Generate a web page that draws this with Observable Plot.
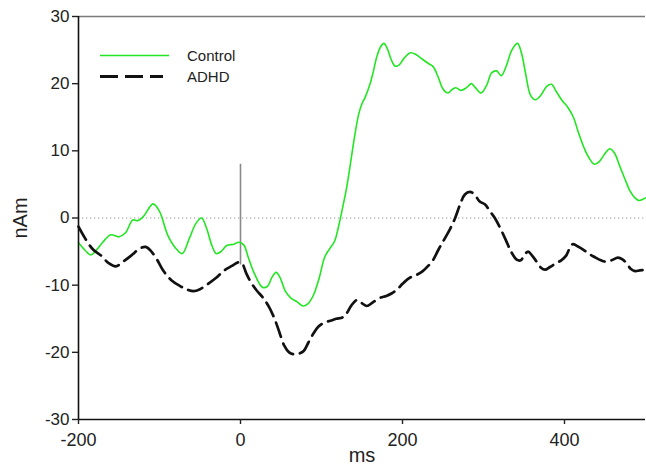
<!DOCTYPE html>
<html>
<head>
<meta charset="utf-8">
<script src="https://cdn.jsdelivr.net/npm/d3@7"></script>
<script src="https://cdn.jsdelivr.net/npm/@observablehq/plot@0.6"></script>
<style>
  html, body { margin: 0; padding: 0; background: #fff; }
  #chart { width: 646px; height: 467px; }
</style>
</head>
<body>
<div id="chart"></div>
<script>
// ---- Data ----
const seriesNames = ["Control", "ADHD"];

const controlMs = [-200,-192,-185,-178,-170,-160,-150,-142,-133,-127,-120,-108,-100,-90,-80,-72,-63,-55,-48,-42,-35,-30,-24,-17,-8,-2,4,10,18,27,33,39,44,49,55,62,70,77,83,90,97,104,110,116,121,126,131,135,140,146,150,154,160,164,168,173,177,181,186,191,196,202,210,217,225,232,238,244,250,256,262,266,272,279,285,290,297,304,310,316,322,328,335,342,347,352,358,364,371,378,384,390,397,404,411,417,424,430,437,443,450,456,462,468,475,481,487,492,497,500];
const controlNAm = [-3.7,-4.8,-5.5,-4.8,-3.6,-2.5,-2.8,-2.2,-0.3,-0.4,0.2,2.1,1.0,-2.5,-4.5,-5.3,-3.0,-0.8,0.0,-1.5,-4.2,-5.3,-5.0,-4.1,-3.9,-3.6,-4.0,-6.0,-8.5,-10.3,-10.2,-8.8,-8.1,-8.9,-10.8,-11.9,-12.5,-13.1,-12.8,-11.5,-9.0,-5.8,-4.6,-3.5,-1.3,1.5,4.5,7.5,11.5,15.5,17.0,18.0,20.0,21.8,23.9,25.5,26.0,25.3,23.6,22.6,22.8,23.8,24.6,24.3,23.6,23.0,22.5,21.0,19.2,18.6,19.2,19.4,19.0,19.4,20.0,19.4,18.6,19.8,21.6,21.9,21.2,22.6,25.0,26.0,24.5,21.5,18.3,17.6,18.3,19.6,19.9,18.8,17.5,16.5,15.0,12.8,10.5,9.0,8.0,8.4,9.6,10.3,9.6,7.8,5.7,4.0,3.0,2.6,2.8,3.0];

const adhdMs = [-200,-192,-182,-172,-163,-154,-145,-135,-125,-117,-110,-103,-95,-85,-75,-65,-58,-50,-40,-30,-20,-10,-3,2,7,13,20,28,35,42,48,54,60,66,72,78,84,90,96,103,111,118,126,131,137,144,150,156,163,172,180,187,193,200,209,217,225,232,238,244,250,258,265,271,277,283,289,295,302,308,314,321,328,334,341,346,350,355,360,365,371,376,382,390,396,402,406,410,416,423,430,437,445,451,458,466,472,477,482,487,493,500];
const adhdNAm = [-1.3,-3.0,-4.7,-5.6,-6.7,-7.2,-6.5,-5.6,-4.6,-4.3,-5.0,-6.2,-7.9,-9.3,-10.1,-10.7,-10.9,-10.6,-9.8,-8.9,-7.8,-7.1,-6.6,-6.8,-8.2,-9.6,-10.8,-11.9,-13.2,-15.0,-17.0,-19.0,-20.0,-20.3,-20.2,-19.8,-18.5,-17.2,-16.2,-15.6,-15.3,-15.0,-14.8,-14.2,-13.0,-12.2,-12.7,-13.1,-12.6,-11.9,-11.6,-11.2,-10.7,-9.8,-8.9,-8.5,-7.9,-7.1,-6.2,-4.8,-3.5,-1.8,0.0,2.0,3.5,3.9,3.5,2.5,2.0,1.0,0.0,-1.6,-3.4,-5.0,-6.2,-6.3,-5.6,-5.0,-5.6,-6.4,-7.4,-7.7,-7.3,-6.7,-6.3,-5.6,-4.6,-3.9,-4.2,-4.7,-5.3,-5.8,-6.3,-6.5,-6.3,-5.9,-6.2,-6.8,-7.6,-7.9,-7.8,-7.7];

const xTicks = [-200, 0, 200, 400];
const yTicks = [-30, -20, -10, 0, 10, 20, 30];
const xDomain = [-200, 500];
const yDomain = [-30, 30];
const stimulusMs = [0];
const stimulusSpan = [-7, 8];
const xLabel = "ms";
const yLabel = "nAm";

// ---- Build tables ----
const control = controlMs.map((t, i) => ({t, v: controlNAm[i]}));
const adhd = adhdMs.map((t, i) => ({t, v: adhdNAm[i]}));

const GREEN = "#22e622";
const font = "'Liberation Sans', Arial, Helvetica, sans-serif";

const chart = Plot.plot({
  width: 646,
  height: 467,
  marginLeft: 78,
  marginRight: 1,
  marginTop: 16,
  marginBottom: 48,
  style: {fontFamily: font, fontSize: "17px", color: "#222", background: "#fff", overflow: "visible"},
  x: {domain: xDomain},
  y: {domain: yDomain},
  marks: [
    Plot.ruleY([0], {stroke: "#9a9a9a", strokeWidth: 1, strokeDasharray: "1.3,2.7"}),
    Plot.ruleY([yDomain[1]], {stroke: "#7a7a7a", strokeWidth: 1.6}),
    Plot.ruleX(stimulusMs, {y1: stimulusSpan[0], y2: stimulusSpan[1], stroke: "#8a8a8a", strokeWidth: 1.6}),
    Plot.line(control, {x: "t", y: "v", stroke: GREEN, strokeWidth: 1.6, curve: "catmull-rom"}),
    Plot.line(adhd, {x: "t", y: "v", stroke: "#111", strokeWidth: 2.7, strokeDasharray: "15,7", curve: "catmull-rom"}),
    Plot.ruleX([xDomain[0]], {stroke: "#111", strokeWidth: 1.6}),
    Plot.ruleY([yDomain[0]], {stroke: "#111", strokeWidth: 1.6}),
    Plot.axisY({ticks: yTicks, tickFormat: d => String(d), tickSize: 6, tickPadding: 3,
      label: yLabel, labelAnchor: "center", labelOffset: 66, labelArrow: "none"}),
    Plot.axisX({ticks: xTicks, tickFormat: d => String(d), tickSize: 5, tickPadding: 9, fontSize: 18,
      label: xLabel, labelAnchor: "center", labelOffset: 42, labelArrow: "none"})
  ]
});

document.getElementById("chart").appendChild(chart);

// Axis-title sizes
const svg = d3.select(chart);
svg.selectAll("g[aria-label='y-axis label'] text").style("font-size", "20px");
svg.selectAll("g[aria-label='x-axis label'] text").style("font-size", "20px");
svg.selectAll("g[aria-label='y-axis tick'] path, g[aria-label='x-axis tick'] path").attr("stroke-width", 1.4);

// Legend (inside the frame, top-left)
const legend = svg.append("g").attr("font-family", font).attr("font-size", 15)
  .attr("fill", "#222").attr("text-anchor", "start");
const items = [
  {name: seriesNames[0], stroke: GREEN, width: 1.6, dash: null, len: 69},
  {name: seriesNames[1], stroke: "#111", width: 2.8, dash: "18,7", len: 63}
];
items.forEach((d, i) => {
  const y = 55.5 + i * 21;
  legend.append("line").attr("x1", 100).attr("x2", 100 + d.len).attr("y1", y).attr("y2", y)
    .attr("stroke", d.stroke).attr("stroke-width", d.width).attr("stroke-dasharray", d.dash);
  legend.append("text").attr("x", 187).attr("y", y).attr("dy", "0.35em")
    .attr("text-anchor", "start").text(d.name);
});
</script>
</body>
</html>
